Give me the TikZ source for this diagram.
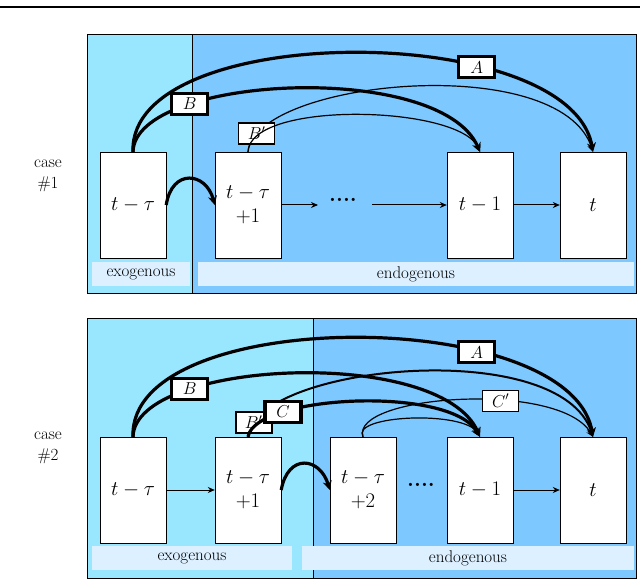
\documentclass[tikz,border=0pt]{standalone}
\usepackage{amsmath}
\usetikzlibrary{arrows.meta}
\definecolor{exo}{HTML}{99E6FF}
\definecolor{endo}{HTML}{7DC8FF}
\definecolor{strip}{HTML}{DDF0FF}
\begin{document}
\begin{tikzpicture}[x=1pt,y=-1pt,
  box/.style={draw, fill=white, minimum width=66pt, minimum height=106pt, inner sep=0pt, align=center, font=\fontsize{21}{24}\selectfont},
  lbl/.style={draw, fill=white, minimum width=36pt, minimum height=21pt, inner sep=1pt, font=\fontsize{17}{20}\selectfont},
  strp/.style={fill=strip},
  stxt/.style={font=\fontsize{17}{20}\selectfont},
  fat/.style={line width=3.2pt, -{Stealth[length=9pt,width=9pt]}},
  mid/.style={line width=2pt, -{Stealth[length=8pt,width=8pt]}},
  slim/.style={line width=1.2pt, -{Stealth[length=7pt,width=7pt]}},
  flow/.style={line width=1pt, -{Stealth[length=7pt,width=6pt]}}]
\useasboundingbox (0,0) rectangle (640,580);
\draw[line width=1.2pt] (0,7) -- (640,7);

% ---------- case 1 ----------
\node[align=center, font=\fontsize{17}{21}\selectfont] (c1) at (48,176) {case\\\#1};
\fill[exo] (87,34) rectangle (192,293);
\fill[endo] (192,34) rectangle (636,293);
\draw (87,34) rectangle (636,293);
\draw (192,34) -- (192,293);
\fill[strp] (92,262) rectangle (190,286);
\fill[strp] (198,262) rectangle (634,286);
\node[stxt] (x1) at (141,274) {exogenous};
\node[stxt] (n1) at (416,274) {endogenous};
\node[box] (a1) at (133,205) {$t-\tau$};
\node[box] (a2) at (248,205) {$t-\tau$\\$+1$};
\node[box] (a4) at (480,205) {$t-1$};
\node[box] (a5) at (593,205) {$t$};
\node[font=\fontsize{22}{24}\selectfont\bfseries] (d1) at (343,200) {....};
\draw[flow] (a2.east) -- (318,205);
\draw[flow] (372,205) -- (a4.west);
\draw[flow] (a4.east) -- (a5.west);
\draw[fat] (a1.east) .. controls (172,168) and (206,172) .. (a2.west);
\draw[fat] (a1.north) .. controls (128,20) and (570,20) .. node[lbl, pos=0.69] (lA1) {$A$} (a5.north);
\draw[fat] (a1.north) .. controls (135,75) and (440,60) .. node[lbl, pos=0.27] (lB1) {$B$} (a4.north);
\draw[slim] (a2.north) .. controls (255,80) and (560,50) .. node[lbl, pos=0.09] (lBp1) {$B'$} (a5.north);
\draw[slim] (a2.north) .. controls (250,100) and (460,105) .. (a4.north);

% ---------- case 2 ----------
\node[align=center, font=\fontsize{17}{21}\selectfont] (c2) at (48,448) {case\\\#2};
\fill[exo] (87,318) rectangle (313,578);
\fill[endo] (313,318) rectangle (636,578);
\draw (87,318) rectangle (636,578);
\draw (313,318) -- (313,578);
\fill[strp] (92,546) rectangle (292,570);
\fill[strp] (302,546) rectangle (634,570);
\node[stxt] (x2) at (192,558) {exogenous};
\node[stxt] (n2) at (468,558) {endogenous};
\node[box] (b1) at (133,490) {$t-\tau$};
\node[box] (b2) at (248,490) {$t-\tau$\\$+1$};
\node[box] (b3) at (363,490) {$t-\tau$\\$+2$};
\node[box] (b4) at (480,490) {$t-1$};
\node[box] (b5) at (593,490) {$t$};
\node[font=\fontsize{22}{24}\selectfont\bfseries] (d2) at (421,485) {....};
\draw[flow] (b1.east) -- (b2.west);
\draw[flow] (b4.east) -- (b5.west);
\draw[fat] (b2.east) .. controls (288,453) and (320,457) .. (b3.west);
\draw[fat] (b1.north) .. controls (128,305) and (570,305) .. node[lbl, pos=0.69] (lA2) {$A$} (b5.north);
\draw[fat] (b1.north) .. controls (135,360) and (440,345) .. node[lbl, pos=0.27] (lB2) {$B$} (b4.north);
\draw[mid] (b2.north) .. controls (255,365) and (560,335) .. node[lbl, pos=0.07] (lBp2) {$B'$} (b5.north);
\draw[fat] (b2.north) .. controls (255,395) and (450,385) .. node[lbl, pos=0.25] (lC2) {$C$} (b4.north);
\draw[slim] (b3.north) .. controls (350,395) and (560,380) .. node[lbl, pos=0.62] (lCp2) {$C'$} (b5.north);
\draw[slim] (b3.north) .. controls (350,415) and (465,410) .. (b4.north);
\end{tikzpicture}
\end{document}
